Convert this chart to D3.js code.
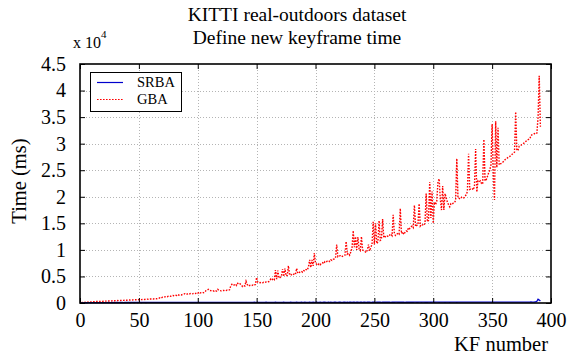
<!DOCTYPE html>
<html>
<head>
<meta charset="utf-8">
<script src="https://cdn.jsdelivr.net/npm/d3@7"></script>
<style>
  body { margin: 0; background: #fff; }
  svg text { font-family: "Liberation Serif", "Times New Roman", serif; fill: #000; }
</style>
</head>
<body>
<svg id="chart" width="570" height="358"></svg>
<script>
// Time (ms) spent defining each new keyframe, one value per KF starting at KF 1
const seriesNames = ["SRBA", "GBA"];
const firstKF = 1;

const srbaMs = [
  20, 30, 40, 35, 50, 45, 60, 55, 50, 65, 60, 70, 65, 60, 75, 70, 65, 80, 75, 70,
  80, 85, 75, 90, 80, 85, 95, 80, 90, 85, 95, 90, 85, 100, 90, 95, 85, 100, 95, 90,
  105, 95, 90, 100, 110, 95, 100, 105, 90, 110, 100, 95, 105, 115, 100, 95, 110, 105, 100, 115,
  105, 100, 120, 110, 105, 115, 100, 110, 120, 105, 115, 110, 100, 120, 115, 105, 110, 125, 115, 105,
  115, 120, 110, 105, 125, 115, 110, 120, 105, 115, 125, 110, 120, 115, 105, 130, 115, 110, 120, 115,
  110, 125, 115, 105, 120, 130, 115, 110, 125, 120, 110, 115, 130, 120, 110, 125, 115, 120, 110, 130,
  120, 115, 125, 110, 120, 135, 115, 125, 120, 110, 130, 120, 115, 125, 135, 120, 110, 130, 125, 115,
  120, 135, 125, 115, 130, 120, 125, 140, 120, 115, 130, 125, 120, 135, 125, 115, 130, 140, 125, 120,
  130, 120, 135, 125, 115, 140, 130, 120, 125, 135, 120, 130, 145, 125, 120, 135, 130, 125, 140, 120,
  125, 135, 130, 145, 125, 120, 135, 140, 130, 125, 150, 135, 125, 130, 140, 135, 125, 145, 130, 135,
  140, 130, 125, 145, 135, 130, 140, 150, 130, 135, 140, 125, 145, 135, 130, 140, 155, 135, 130, 140,
  145, 135, 130, 150, 140, 135, 145, 130, 140, 150, 135, 145, 140, 130, 155, 145, 135, 140, 150, 135,
  140, 145, 135, 155, 140, 150, 135, 145, 160, 140, 135, 150, 145, 140, 155, 135, 145, 150, 140, 160,
  145, 140, 150, 135, 155, 145, 140, 160, 150, 140, 145, 155, 140, 150, 145, 135, 160, 145, 150, 140,
  155, 145, 140, 150, 160, 145, 140, 155, 150, 145, 165, 150, 140, 155, 145, 160, 150, 145, 155, 150,
  145, 160, 150, 155, 145, 165, 150, 155, 160, 145, 150, 165, 155, 145, 160, 150, 155, 170, 150, 145,
  160, 155, 150, 165, 155, 160, 150, 170, 155, 160, 150, 165, 160, 155, 170, 150, 160, 165, 155, 160,
  170, 155, 160, 165, 155, 175, 160, 155, 165, 160, 170, 155, 165, 175, 160, 165, 155, 170, 165, 160,
  175, 165, 160, 170, 165, 180, 160, 170, 165, 175, 170, 160, 180, 165, 170, 175, 165, 180, 170, 165,
  175, 170, 185, 175, 180, 190, 210, 320, 700, 560, 380
];

const gbaMs = [
  60, 90, 80, 120, 140, 130, 170, 190, 180, 210,
  230, 250, 240, 270, 290, 280, 300, 320, 310, 330,
  340, 360, 350, 370, 390, 380, 400, 420, 410, 430,
  440, 460, 450, 470, 490, 480, 500, 520, 510, 530,
  540, 560, 550, 570, 590, 580, 600, 620, 610, 640,
  650, 630, 670, 690, 670, 710, 730, 700, 750, 770,
  760, 740, 800, 830, 790, 860, 900, 1000, 920, 1080,
  1100, 1150, 1220, 1160, 1280, 1320, 1250, 1380, 1420, 1350,
  1450, 1420, 1600, 1480, 1550, 1520, 1600, 1650, 1750, 1620,
  1680, 1820, 1730, 1780, 1700, 1760, 1840, 1780, 1880, 1800,
  2050, 1880, 1950, 2000, 1920, 2050, 2320, 2420, 2580, 2380,
  2330, 2250, 2300, 2200, 2340, 2250, 2580, 2380, 2330, 2280,
  2330, 2380, 2280, 2340, 2430, 2380, 2480, 3200, 3500, 3300,
  3400, 3600, 3300, 3700, 3500, 3600, 3400, 3100, 3300, 3200,
  4100, 3500, 3200, 3300, 3350, 3300, 3400, 3300, 3500, 4800,
  3900, 3800, 3850, 3750, 3800, 3900, 3850, 3950, 3900, 4000,
  4100, 4500, 4300, 4600, 4400, 6200, 4500, 6100, 4700, 4800,
  5000, 6400, 5000, 6500, 5100, 5200, 7000, 5300, 5400, 5200,
  5300, 5500, 5400, 6500, 5600, 5700, 5900, 6000, 5800, 6100,
  6000, 6300, 6200, 6800, 8100, 6700, 8100, 7000, 9400, 7500,
  7300, 7100, 7400, 7200, 7500, 7600, 7400, 7800, 7700, 7900,
  8000, 7800, 8100, 8000, 8200, 8300, 8500, 11000, 8700, 8800,
  8900, 8700, 8800, 8900, 9000, 11600, 9200, 9400, 9000, 9600,
  10400, 13600, 10500, 12500, 10000, 12400, 10200, 9900, 12500, 10000,
  9800, 9700, 9500, 10000, 11000, 9800, 10500, 11000, 15300, 11000,
  15000, 11200, 11500, 15500, 11800, 12000, 15800, 12300, 12500, 12400,
  12600, 12500, 12800, 13000, 12700, 16600, 13000, 12700, 12900, 13200,
  13000, 17800, 13100, 13400, 12900, 13300, 13600, 13500, 14200, 14000,
  14300, 14500, 14200, 18400, 14400, 14600, 14700, 18700, 14500, 14800,
  14700, 14600, 15000, 20600, 15300, 15600, 22800, 16000, 21000, 15000,
  19000, 18500, 19200, 22800, 23400, 19500, 17500, 22000, 17500, 20600,
  19800, 19000, 18500, 18100, 18700, 18600, 18800, 18900, 19300, 27200,
  19800, 19700, 19600, 19900, 19700, 19800, 20100, 20400, 21000, 28100,
  21400, 21500, 21600, 21300, 22000, 29000, 20900, 23000, 22800, 23000,
  22500, 22400, 30800, 23000, 23200, 23800, 24500, 25000, 26000, 33700,
  24000, 19400, 34200, 25500, 33000, 26000, 26200, 26300, 26500, 26700,
  27000, 27200, 27300, 27500, 27600, 27800, 28000, 28200, 28400, 36000,
  28700, 28800, 29500, 29600, 29800, 29900, 30100, 30300, 30500, 30700,
  30800, 30900, 31500, 31700, 31800, 31900, 31800, 32000, 35000, 42800,
  33200
];

const xTickValues = [0, 50, 100, 150, 200, 250, 300, 350, 400];
const yTickValues = [0, 5000, 10000, 15000, 20000, 25000, 30000, 35000, 40000, 45000];
const yTickLabels = ["0", "0.5", "1", "1.5", "2", "2.5", "3", "3.5", "4", "4.5"];

const titleLines = ["KITTI real-outdoors dataset", "Define new keyframe time"];
const xLabel = "KF number";
const yLabel = "Time (ms)";

const serif = '"Liberation Serif", "Times New Roman", serif';

// ---- layout ----
const plot = { left: 80, right: 551, top: 64, bottom: 303 };
const svg = d3.select("#chart");

const x = d3.scaleLinear().domain([0, 400]).range([plot.left, plot.right]);
const y = d3.scaleLinear().domain([0, 45000]).range([plot.bottom, plot.top]);

// dotted grid
const grid = svg.append("g").attr("stroke", "#b4b4b4").attr("stroke-width", 1)
  .attr("stroke-dasharray", "1,2");
grid.selectAll("line.gx").data(xTickValues.slice(1, -1)).join("line")
  .attr("x1", d => Math.round(x(d)) + 0.5).attr("x2", d => Math.round(x(d)) + 0.5)
  .attr("y1", plot.top).attr("y2", plot.bottom);
grid.selectAll("line.gy").data(yTickValues.slice(1, -1)).join("line")
  .attr("y1", d => Math.round(y(d)) + 0.5).attr("y2", d => Math.round(y(d)) + 0.5)
  .attr("x1", plot.left).attr("x2", plot.right);

// series
const line = d3.line()
  .x((d, i) => x(firstKF + i))
  .y(d => y(d));

svg.append("path").datum(gbaMs)
  .attr("fill", "none").attr("stroke", "#ff0000").attr("stroke-width", 1.4)
  .attr("stroke-dasharray", "1.6,1.4")
  .attr("d", line);

svg.append("path").datum(srbaMs)
  .attr("fill", "none").attr("stroke", "#0000cc").attr("stroke-width", 1.3)
  .attr("d", line);

// axes with inward ticks on all four sides
const fmtY = d => yTickLabels[yTickValues.indexOf(d)];
const xAxis = d3.axisBottom(x).tickValues(xTickValues).tickSize(-5).tickPadding(10).tickFormat(d3.format("d"));
const yAxis = d3.axisLeft(y).tickValues(yTickValues).tickSize(-5).tickPadding(14).tickFormat(fmtY);

function styleAxis(g) {
  g.attr("font-family", serif);
  g.select(".domain").remove();
  g.selectAll(".tick line").attr("stroke", "#000").attr("stroke-width", 1);
  g.selectAll(".tick text")
    .style("font-family", serif).style("font-size", "20px").attr("fill", "#000");
}

svg.append("g").attr("transform", `translate(0,${plot.bottom})`).call(xAxis).call(styleAxis);
svg.append("g").attr("transform", `translate(${plot.left},0)`).call(yAxis).call(styleAxis);
svg.append("g").attr("transform", `translate(0,${plot.top})`)
  .call(d3.axisTop(x).tickValues(xTickValues).tickSize(-5).tickFormat(""))
  .call(styleAxis);
svg.append("g").attr("transform", `translate(${plot.right},0)`)
  .call(d3.axisRight(y).tickValues(yTickValues).tickSize(-5).tickFormat(""))
  .call(styleAxis);

// axes box
svg.append("rect")
  .attr("x", plot.left).attr("y", plot.top)
  .attr("width", plot.right - plot.left).attr("height", plot.bottom - plot.top)
  .attr("fill", "none").attr("stroke", "#000").attr("stroke-width", 1.6);

// exponent marker
const expo = svg.append("text").attr("x", 73).attr("y", 48).style("font-size", "16px");
expo.append("tspan").text("x 10");
expo.append("tspan").attr("dy", -10).style("font-size", "11px").text("4");

// titles and labels
svg.selectAll("text.title").data(titleLines).join("text")
  .attr("class", "title")
  .attr("x", 297).attr("y", (d, i) => 21 + i * 23)
  .attr("text-anchor", "middle").style("font-size", "19.5px")
  .text(d => d);

svg.append("text").attr("x", 548).attr("y", 351).attr("text-anchor", "end")
  .style("font-size", "20.5px").text(xLabel);

svg.append("text").attr("transform", "translate(26,181) rotate(-90)")
  .attr("text-anchor", "middle").style("font-size", "20.5px").text(yLabel);

// legend
const legend = svg.append("g");
legend.append("rect").attr("x", 90.5).attr("y", 72.5).attr("width", 91).attr("height", 39)
  .attr("fill", "#fff").attr("stroke", "#000").attr("stroke-width", 1);
const legendStyles = [
  { color: "#0000cc", dash: null },
  { color: "#ff0000", dash: "1.6,1.4" }
];
seriesNames.forEach((name, i) => {
  const cy = 82.5 + i * 17;
  legend.append("line").attr("x1", 97).attr("x2", 123).attr("y1", cy).attr("y2", cy)
    .attr("stroke", legendStyles[i].color).attr("stroke-width", 1.2)
    .attr("stroke-dasharray", legendStyles[i].dash);
  legend.append("text").attr("x", 137).attr("y", cy + 4.5)
    .style("font-size", "14.5px").text(name);
});
</script>
</body>
</html>
